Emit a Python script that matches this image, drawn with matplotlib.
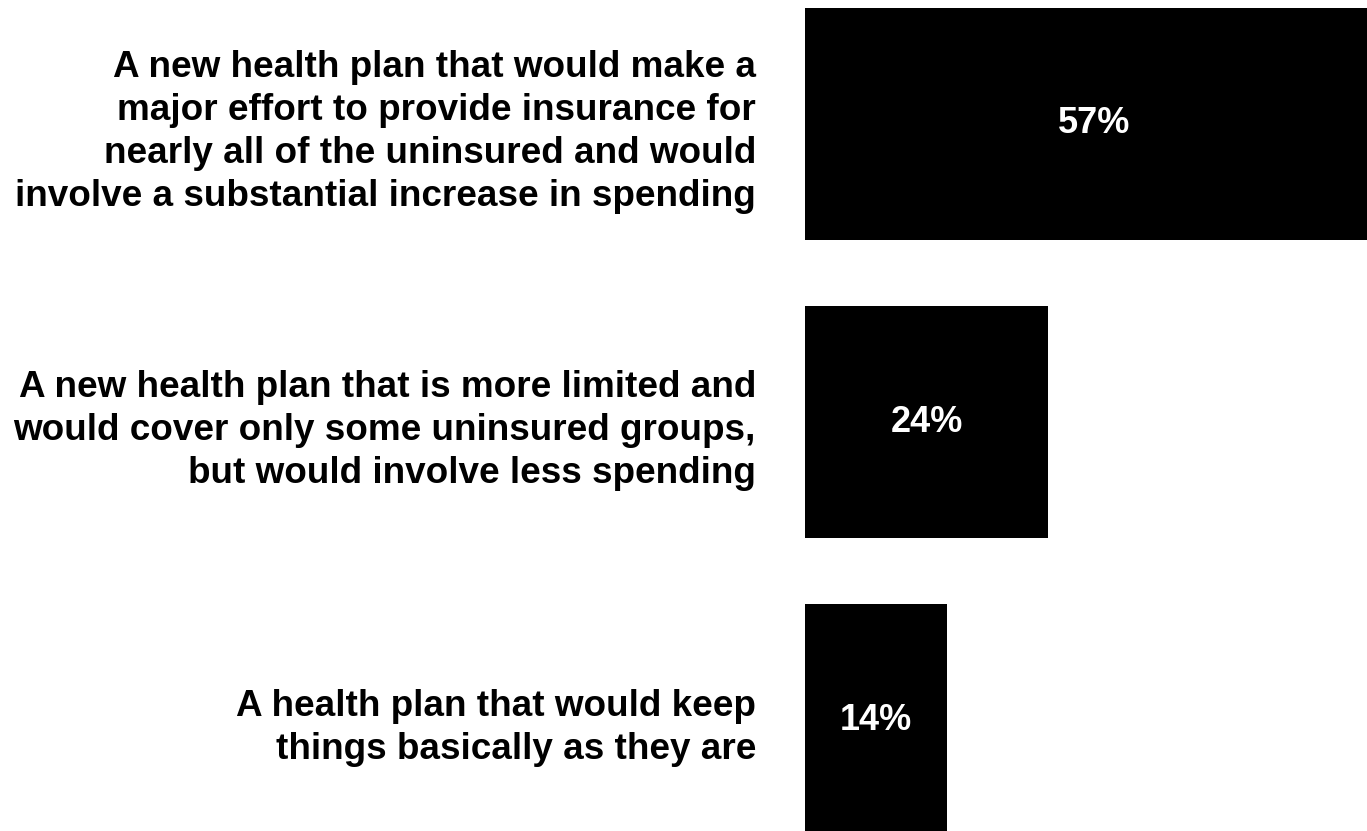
import matplotlib
matplotlib.use('Agg')
import matplotlib.pyplot as plt

plt.rcParams['font.family'] = ['Liberation Sans', 'DejaVu Sans']

# Survey answers (top to bottom)
categories = [
    'A new health plan that would make a\nmajor effort to provide insurance for\n'
    'nearly all of the uninsured and would\ninvolve a substantial increase in spending',
    'A new health plan that is more limited and\nwould cover only some uninsured groups,\n'
    'but would involve less spending',
    'A health plan that would keep\nthings basically as they are',
]
values = [57, 24, 14]
value_labels = ['57%', '24%', '14%']

fig = plt.figure(figsize=(13.67, 8.31), dpi=100)
ax = fig.add_axes([805 / 1367, 0, 562 / 1367, 1])

ypos = list(range(len(values)))
ax.barh(ypos, values, height=0.778, color='black')

# top bar runs past the right edge, as in the original slide
ax.set_xlim(0, 55.4)
ax.set_ylim(2.372, -0.416)

for y, v, lab in zip(ypos, values, value_labels):
    ax.text(v / 2, y, lab, ha='center', va='center',
            color='white', fontsize=26, fontweight='bold')

ax.set_yticks(ypos)
ax.set_yticklabels(categories, fontsize=26.6, fontweight='bold',
                   ha='right', multialignment='right', linespacing=1.3)
ax.tick_params(axis='y', length=0, pad=35.3)
ax.set_xticks([])
for s in ax.spines.values():
    s.set_visible(False)

fig.savefig('out.png', dpi=100, facecolor='white')
